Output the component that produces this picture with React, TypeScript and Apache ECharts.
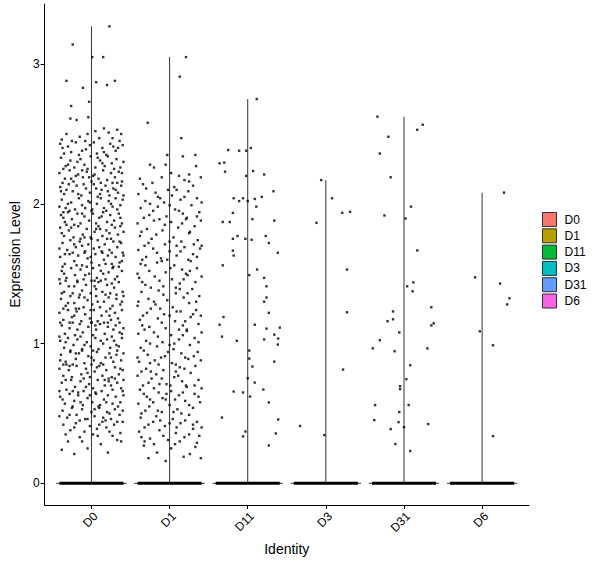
import { useEffect, useRef } from 'react';
import * as echarts from 'echarts';

// Seurat VlnPlot: expression per identity, violins collapsed at zero + jittered cells
const GROUPS = ['D0', 'D1', 'D11', 'D3', 'D31', 'D6'];
const FILLS = ['#F8766D', '#B79F00', '#00BA38', '#00BFC4', '#619CFF', '#F564E3'];
const Y_TICKS = [0, 1, 2, 3];

// [jitter offset, expression] for each non-zero cell
const d0Cells: [number, number][] = [
  [0.23, 3.27], [-0.24, 3.14], [0.01, 3.05], [0.15, 3.05], [-0.32, 2.88], [0.06, 2.87], [0.3, 2.88], [0.2, 2.85],
  [-0.11, 2.83], [-0.03, 2.73], [-0.26, 2.7], [-0.27, 2.61], [-0.19, 2.6], [-0.04, 2.62],
  [0.05, 2.52], [0.16, 2.54], [-0.32, 2.5], [0.38, 2.5], [-0.15, 2.48], [0.27, 2.47], [-0.38, 2.46], [0.1, 2.47],
  [-0.05, 2.5], [0.33, 2.53], [-0.25, 2.45], [0.22, 2.51],
  [-0.4, 2.43], [-0.3, 2.41], [-0.2, 2.44], [-0.12, 2.38], [-0.02, 2.42], [0.07, 2.36], [0.14, 2.4], [0.24, 2.43],
  [0.31, 2.38], [0.4, 2.42], [-0.35, 2.36], [-0.26, 2.37], [-0.08, 2.45], [0.03, 2.44], [0.19, 2.35], [0.36, 2.45],
  [-0.16, 2.35], [0.28, 2.41],
  [-0.39, 2.33], [-0.33, 2.27], [-0.27, 2.31], [-0.22, 2.26], [-0.14, 2.32], [-0.09, 2.28], [-0.01, 2.34], [0.05, 2.26],
  [0.11, 2.31], [0.17, 2.27], [0.21, 2.34], [0.26, 2.29], [0.32, 2.32], [0.37, 2.26], [0.41, 2.3], [-0.36, 2.25],
  [-0.18, 2.3], [0.08, 2.33], [0.29, 2.25], [-0.05, 2.25],
  [-0.41, 2.22], [-0.34, 2.18], [-0.28, 2.24], [-0.23, 2.16], [-0.17, 2.21], [-0.11, 2.19], [-0.06, 2.23], [0.0, 2.16],
  [0.04, 2.21], [0.09, 2.18], [0.15, 2.24], [0.2, 2.17], [0.25, 2.22], [0.3, 2.19], [0.35, 2.23], [0.39, 2.16],
  [-0.37, 2.15], [-0.2, 2.2], [0.12, 2.15], [0.33, 2.15], [-0.03, 2.19],
  [-0.4, 2.12], [-0.35, 2.07], [-0.29, 2.14], [-0.24, 2.09], [-0.19, 2.13], [-0.13, 2.06], [-0.07, 2.11], [-0.02, 2.08],
  [0.03, 2.14], [0.08, 2.05], [0.13, 2.1], [0.18, 2.13], [0.23, 2.06], [0.28, 2.11], [0.34, 2.08], [0.38, 2.13],
  [-0.32, 2.1], [-0.1, 2.14], [0.06, 2.11], [0.21, 2.09], [0.41, 2.06],
  [-0.38, 2.03], [-0.33, 1.97], [-0.26, 2.01], [-0.21, 1.96], [-0.16, 2.04], [-0.12, 1.99], [-0.04, 2.02], [0.01, 1.96],
  [0.07, 2.0], [0.12, 2.04], [0.16, 1.97], [0.22, 2.02], [0.27, 1.98], [0.31, 2.04], [0.37, 1.99], [0.4, 2.03],
  [-0.41, 1.98], [-0.28, 1.95], [-0.08, 1.97], [0.19, 1.95], [0.33, 1.96],
  [-0.39, 1.92], [-0.34, 1.87], [-0.3, 1.94], [-0.25, 1.89], [-0.18, 1.93], [-0.14, 1.86], [-0.09, 1.91], [-0.03, 1.88],
  [0.02, 1.93], [0.06, 1.86], [0.1, 1.9], [0.15, 1.94], [0.2, 1.87], [0.24, 1.92], [0.29, 1.88], [0.35, 1.93],
  [0.39, 1.86], [-0.22, 1.85], [0.0, 1.95], [0.26, 1.85], [-0.36, 1.9],
  [-0.4, 1.83], [-0.35, 1.77], [-0.29, 1.81], [-0.23, 1.76], [-0.17, 1.84], [-0.11, 1.78], [-0.06, 1.82], [-0.01, 1.76],
  [0.04, 1.8], [0.09, 1.84], [0.14, 1.77], [0.19, 1.81], [0.25, 1.75], [0.3, 1.83], [0.34, 1.78], [0.41, 1.8],
  [-0.32, 1.85], [-0.14, 1.75], [0.11, 1.82], [0.37, 1.84],
  [-0.37, 1.72], [-0.31, 1.67], [-0.27, 1.74], [-0.2, 1.69], [-0.15, 1.73], [-0.08, 1.66], [-0.04, 1.71], [0.03, 1.68],
  [0.08, 1.74], [0.13, 1.66], [0.17, 1.71], [0.23, 1.67], [0.28, 1.73], [0.33, 1.69], [0.38, 1.72], [-0.41, 1.68],
  [-0.24, 1.65], [0.0, 1.75], [0.2, 1.75], [0.4, 1.65], [-0.12, 1.7],
  [-0.4, 1.62], [-0.34, 1.57], [-0.28, 1.64], [-0.22, 1.59], [-0.17, 1.63], [-0.12, 1.56], [-0.05, 1.61], [0.0, 1.58],
  [0.05, 1.64], [0.1, 1.56], [0.16, 1.6], [0.21, 1.63], [0.26, 1.57], [0.31, 1.62], [0.36, 1.58], [0.41, 1.63],
  [-0.37, 1.55], [-0.09, 1.65], [0.14, 1.65], [0.28, 1.55],
  [-0.38, 1.52], [-0.32, 1.47], [-0.26, 1.54], [-0.21, 1.49], [-0.14, 1.53], [-0.1, 1.46], [-0.03, 1.5], [0.02, 1.54],
  [0.07, 1.47], [0.12, 1.52], [0.18, 1.46], [0.22, 1.51], [0.27, 1.54], [0.33, 1.48], [0.39, 1.52], [-0.41, 1.46],
  [-0.18, 1.45], [0.04, 1.45], [0.35, 1.55], [-0.06, 1.55],
  [-0.4, 1.43], [-0.35, 1.37], [-0.29, 1.41], [-0.24, 1.36], [-0.18, 1.44], [-0.12, 1.38], [-0.07, 1.42], [-0.01, 1.36],
  [0.04, 1.41], [0.09, 1.44], [0.14, 1.37], [0.2, 1.42], [0.24, 1.36], [0.29, 1.4], [0.35, 1.44], [0.4, 1.37],
  [-0.33, 1.45], [-0.15, 1.35], [0.12, 1.45], [0.32, 1.35], [0.0, 1.45],
  [-0.39, 1.32], [-0.33, 1.27], [-0.27, 1.34], [-0.22, 1.29], [-0.16, 1.33], [-0.1, 1.26], [-0.05, 1.31], [0.01, 1.28],
  [0.06, 1.34], [0.11, 1.26], [0.16, 1.3], [0.22, 1.33], [0.27, 1.27], [0.32, 1.32], [0.37, 1.28], [0.41, 1.34],
  [-0.36, 1.25], [-0.2, 1.25], [0.08, 1.3], [0.24, 1.25],
  [-0.41, 1.22], [-0.36, 1.17], [-0.3, 1.24], [-0.25, 1.19], [-0.19, 1.23], [-0.13, 1.16], [-0.08, 1.21], [-0.02, 1.18],
  [0.03, 1.24], [0.08, 1.16], [0.13, 1.2], [0.19, 1.23], [0.25, 1.17], [0.3, 1.22], [0.34, 1.18], [0.39, 1.24],
  [-0.28, 1.15], [0.0, 1.15], [0.21, 1.15], [-0.16, 1.25], [0.36, 1.15],
  [-0.38, 1.13], [-0.34, 1.07], [-0.28, 1.11], [-0.21, 1.06], [-0.15, 1.14], [-0.11, 1.08], [-0.04, 1.12], [0.02, 1.06],
  [0.06, 1.1], [0.11, 1.14], [0.17, 1.07], [0.21, 1.12], [0.26, 1.05], [0.31, 1.13], [0.36, 1.08], [0.41, 1.11],
  [-0.41, 1.05], [-0.24, 1.15], [0.0, 1.15], [0.16, 1.15],
  [-0.4, 1.02], [-0.35, 0.97], [-0.3, 1.04], [-0.23, 0.99], [-0.18, 1.03], [-0.12, 0.96], [-0.06, 1.01], [-0.01, 0.98],
  [0.05, 1.04], [0.09, 0.96], [0.15, 1.0], [0.2, 1.03], [0.24, 0.97], [0.29, 1.02], [0.35, 0.98], [0.39, 1.04],
  [-0.27, 0.95], [0.02, 0.95], [0.33, 0.95], [-0.14, 1.05],
  [-0.39, 0.92], [-0.33, 0.87], [-0.27, 0.94], [-0.2, 0.89], [-0.16, 0.93], [-0.09, 0.86], [-0.04, 0.91], [0.03, 0.88],
  [0.07, 0.94], [0.12, 0.86], [0.18, 0.9], [0.23, 0.93], [0.28, 0.87], [0.32, 0.92], [0.38, 0.88], [0.41, 0.93],
  [-0.36, 0.85], [-0.12, 0.95], [0.15, 0.85], [-0.24, 0.85],
  [-0.41, 0.82], [-0.36, 0.77], [-0.29, 0.81], [-0.25, 0.76], [-0.19, 0.84], [-0.13, 0.78], [-0.07, 0.82], [-0.02, 0.76],
  [0.04, 0.8], [0.1, 0.84], [0.14, 0.77], [0.19, 0.81], [0.26, 0.76], [0.3, 0.83], [0.35, 0.78], [0.4, 0.81],
  [-0.32, 0.85], [0.0, 0.85], [0.22, 0.75], [-0.1, 0.75],
  [-0.38, 0.72], [-0.32, 0.67], [-0.26, 0.74], [-0.21, 0.69], [-0.14, 0.73], [-0.1, 0.66], [-0.03, 0.71], [0.02, 0.68],
  [0.08, 0.74], [0.13, 0.66], [0.17, 0.7], [0.22, 0.73], [0.27, 0.67], [0.33, 0.72], [0.38, 0.68], [-0.41, 0.66],
  [-0.17, 0.65], [0.05, 0.65], [0.3, 0.75], [0.41, 0.74],
  [-0.4, 0.62], [-0.34, 0.57], [-0.28, 0.64], [-0.22, 0.59], [-0.17, 0.63], [-0.11, 0.56], [-0.05, 0.61], [0.01, 0.58],
  [0.06, 0.64], [0.11, 0.56], [0.16, 0.6], [0.21, 0.63], [0.27, 0.57], [0.31, 0.62], [0.37, 0.58], [0.41, 0.63],
  [-0.24, 0.55], [0.09, 0.55],
  [-0.37, 0.52], [-0.31, 0.47], [-0.25, 0.54], [-0.19, 0.49], [-0.12, 0.53], [-0.08, 0.46], [0.0, 0.51], [0.04, 0.48],
  [0.1, 0.54], [0.15, 0.47], [0.2, 0.51], [0.25, 0.46], [0.3, 0.53], [0.36, 0.49], [0.4, 0.52], [-0.41, 0.48],
  [-0.15, 0.45], [0.18, 0.45],
  [-0.36, 0.42], [-0.27, 0.38], [-0.2, 0.43], [-0.09, 0.37], [-0.02, 0.41], [0.07, 0.39], [0.14, 0.44], [0.23, 0.37],
  [0.29, 0.42], [0.37, 0.36], [-0.33, 0.35], [0.02, 0.35], [0.19, 0.4], [0.4, 0.44],
  [-0.3, 0.3], [-0.15, 0.33], [0.12, 0.28], [0.33, 0.31], [-0.05, 0.25], [0.21, 0.22], [-0.38, 0.24], [0.38, 0.3],
  [-0.22, 0.21], [0.08, 0.34],
  [-0.37, 2.4], [-0.07, 2.39], [0.16, 2.37], [0.34, 2.4], [-0.3, 2.28], [-0.12, 2.24], [0.14, 2.29], [0.39, 2.22],
  [-0.26, 2.18], [0.02, 2.2], [0.27, 2.15], [-0.39, 2.09], [-0.17, 2.07], [0.11, 2.07], [0.31, 2.1], [-0.3, 2.0],
  [-0.02, 2.01], [0.25, 2.0], [-0.36, 1.94], [-0.12, 1.93], [0.13, 1.91], [0.37, 1.9], [-0.26, 1.83], [0.06, 1.82],
  [0.23, 1.79], [-0.38, 1.79], [-0.09, 1.76], [0.36, 1.73], [-0.22, 1.71], [0.1, 1.69], [0.26, 1.65], [-0.34, 1.64],
  [-0.01, 1.62], [0.18, 1.57], [-0.19, 1.56], [0.39, 1.59], [-0.35, 1.5], [-0.08, 1.49], [0.15, 1.5], [0.3, 1.46],
  [-0.22, 1.41], [0.06, 1.39], [0.26, 1.43], [-0.38, 1.36], [-0.09, 1.33], [0.18, 1.35], [0.39, 1.3], [-0.3, 1.29],
  [-0.01, 1.24], [0.23, 1.2], [-0.22, 1.2], [-0.4, 1.15], [0.05, 1.13], [0.28, 1.1], [-0.18, 1.1], [0.39, 1.07],
  [-0.33, 1.01], [-0.09, 0.99], [0.12, 1.02], [0.32, 0.99], [-0.2, 0.93], [0.0, 0.9], [0.25, 0.9], [-0.4, 0.88],
  [-0.28, 0.84], [0.07, 0.83], [0.37, 0.82], [-0.05, 0.79], [0.17, 0.74], [-0.33, 0.74], [-0.07, 0.69], [0.25, 0.7],
  [0.4, 0.66], [-0.24, 0.66], [-0.02, 0.63], [0.19, 0.58], [-0.37, 0.6], [0.34, 0.55], [-0.14, 0.58], [0.04, 0.53],
  [-0.28, 0.49], [0.23, 0.5], [-0.05, 0.46], [0.33, 0.44], [-0.22, 0.4], [0.1, 0.42], [-0.12, 0.3], [0.27, 0.34],
];

const d1Cells: [number, number][] = [
  [0.21, 3.05], [0.13, 2.91], [-0.28, 2.58], [0.15, 2.47], [-0.03, 2.35], [0.17, 2.34], [0.33, 2.35], [-0.25, 2.28],
  [-0.2, 2.26], [-0.05, 2.28], [0.34, 2.27], [0.25, 2.21], [0.02, 2.22],
  [-0.38, 2.18], [-0.22, 2.15], [-0.1, 2.19], [0.06, 2.12], [0.19, 2.17], [0.3, 2.13], [0.4, 2.19], [-0.3, 2.11],
  [0.12, 2.2], [-0.02, 2.1],
  [-0.4, 2.07], [-0.31, 2.02], [-0.18, 2.08], [-0.07, 2.01], [0.03, 2.06], [0.14, 2.03], [0.24, 2.09], [0.35, 2.04],
  [-0.25, 2.0], [0.09, 2.1], [0.41, 2.01], [-0.12, 2.04],
  [-0.37, 1.97], [-0.26, 1.92], [-0.15, 1.98], [-0.04, 1.91], [0.07, 1.96], [0.17, 1.93], [0.28, 1.99], [0.38, 1.94],
  [-0.33, 1.9], [0.0, 1.99], [0.22, 1.9],
  [-0.41, 1.86], [-0.29, 1.82], [-0.2, 1.88], [-0.09, 1.81], [0.02, 1.87], [0.11, 1.83], [0.21, 1.89], [0.32, 1.84],
  [0.4, 1.88], [-0.36, 1.8], [-0.13, 1.89], [0.26, 1.8],
  [-0.38, 1.77], [-0.27, 1.72], [-0.17, 1.78], [-0.06, 1.71], [0.05, 1.76], [0.15, 1.73], [0.25, 1.79], [0.36, 1.74],
  [-0.32, 1.7], [0.09, 1.7], [0.41, 1.7],
  [-0.4, 1.67], [-0.3, 1.62], [-0.21, 1.68], [-0.11, 1.61], [0.0, 1.66], [0.09, 1.63], [0.19, 1.69], [0.3, 1.64],
  [0.39, 1.68], [-0.35, 1.6], [-0.03, 1.6], [0.24, 1.6],
  [-0.37, 1.57], [-0.26, 1.52], [-0.16, 1.58], [-0.05, 1.51], [0.06, 1.56], [0.16, 1.53], [0.27, 1.59], [0.35, 1.54],
  [-0.41, 1.5], [-0.1, 1.59], [0.21, 1.5],
  [-0.39, 1.47], [-0.31, 1.42], [-0.19, 1.48], [-0.08, 1.41], [0.03, 1.46], [0.13, 1.43], [0.23, 1.49], [0.33, 1.44],
  [0.41, 1.48], [-0.24, 1.4], [0.08, 1.4],
  [-0.36, 1.37], [-0.27, 1.32], [-0.14, 1.38], [-0.03, 1.31], [0.08, 1.36], [0.18, 1.33], [0.29, 1.39], [0.38, 1.34],
  [-0.4, 1.3], [-0.2, 1.3], [0.13, 1.39],
  [-0.41, 1.27], [-0.29, 1.22], [-0.18, 1.28], [-0.07, 1.21], [0.04, 1.26], [0.14, 1.23], [0.25, 1.29], [0.34, 1.24],
  [-0.34, 1.2], [0.0, 1.2], [0.4, 1.2], [-0.12, 1.25],
  [-0.38, 1.17], [-0.26, 1.12], [-0.15, 1.18], [-0.05, 1.11], [0.07, 1.16], [0.17, 1.13], [0.27, 1.19], [0.37, 1.14],
  [-0.32, 1.1], [0.12, 1.1], [0.22, 1.1],
  [-0.4, 1.07], [-0.3, 1.02], [-0.2, 1.08], [-0.09, 1.01], [0.02, 1.06], [0.12, 1.03], [0.22, 1.09], [0.32, 1.04],
  [0.41, 1.08], [-0.25, 1.0], [0.06, 1.0],
  [-0.37, 0.97], [-0.28, 0.92], [-0.16, 0.98], [-0.06, 0.91], [0.05, 0.96], [0.15, 0.93], [0.26, 0.99], [0.36, 0.94],
  [-0.41, 0.9], [-0.11, 0.9], [0.2, 0.9], [0.0, 0.99],
  [-0.39, 0.87], [-0.3, 0.82], [-0.19, 0.88], [-0.08, 0.81], [0.03, 0.86], [0.13, 0.83], [0.24, 0.89], [0.33, 0.84],
  [0.4, 0.88], [-0.24, 0.8], [0.08, 0.8], [-0.14, 0.85],
  [-0.41, 0.77], [-0.27, 0.72], [-0.17, 0.78], [-0.04, 0.71], [0.06, 0.76], [0.16, 0.73], [0.27, 0.79], [0.37, 0.74],
  [-0.34, 0.7], [0.01, 0.7], [0.21, 0.7], [-0.1, 0.75],
  [-0.38, 0.67], [-0.29, 0.62], [-0.2, 0.68], [-0.09, 0.61], [0.02, 0.66], [0.12, 0.63], [0.22, 0.69], [0.32, 0.64],
  [0.41, 0.68], [-0.25, 0.6], [0.07, 0.6], [-0.14, 0.65],
  [-0.4, 0.57], [-0.31, 0.52], [-0.21, 0.58], [-0.1, 0.51], [0.0, 0.56], [0.1, 0.53], [0.2, 0.59], [0.3, 0.54],
  [0.39, 0.58], [-0.36, 0.5], [0.15, 0.5], [-0.05, 0.6],
  [-0.37, 0.47], [-0.27, 0.42], [-0.17, 0.48], [-0.06, 0.41], [0.04, 0.46], [0.14, 0.43], [0.25, 0.49], [0.35, 0.44],
  [-0.32, 0.4], [0.09, 0.4], [0.41, 0.4], [-0.12, 0.45],
  [-0.39, 0.37], [-0.25, 0.32], [-0.13, 0.38], [-0.02, 0.31], [0.08, 0.36], [0.19, 0.33], [0.3, 0.39], [0.38, 0.34],
  [-0.32, 0.3], [0.13, 0.3],
  [-0.33, 0.27], [-0.16, 0.22], [0.02, 0.25], [0.18, 0.19], [0.33, 0.26], [-0.05, 0.16], [0.26, 0.21], [-0.27, 0.18],
  [0.4, 0.18],
  [-0.34, 2.14], [0.25, 2.16], [-0.15, 2.05], [0.19, 2.05], [-0.21, 1.95], [0.12, 1.95], [0.35, 1.91], [-0.06, 1.85],
  [0.16, 1.86], [-0.23, 1.75], [0.0, 1.73], [0.31, 1.71], [-0.16, 1.65], [0.14, 1.66], [0.35, 1.62], [-0.31, 1.56],
  [0.01, 1.54], [0.26, 1.52], [-0.13, 1.45], [0.18, 1.46], [-0.35, 1.44], [-0.08, 1.35], [0.23, 1.36], [0.34, 1.3],
  [-0.24, 1.25], [0.09, 1.23], [0.3, 1.21], [-0.1, 1.15], [0.2, 1.16], [-0.35, 1.13], [-0.15, 1.05], [0.17, 1.06],
  [0.37, 1.01], [-0.33, 0.95], [-0.02, 0.94], [0.31, 0.91], [-0.25, 0.86], [0.08, 0.85], [0.19, 0.82], [-0.36, 0.8],
  [-0.13, 0.71], [0.11, 0.77], [0.32, 0.7], [-0.23, 0.75], [-0.33, 0.64], [0.17, 0.65], [-0.04, 0.64], [0.37, 0.62],
  [-0.26, 0.55], [0.05, 0.51], [0.25, 0.56], [-0.15, 0.52], [-0.21, 0.44], [0.2, 0.45], [0.0, 0.43], [0.3, 0.42],
  [-0.08, 0.34], [0.25, 0.35], [-0.36, 0.33], [0.07, 0.28], [-0.2, 0.28], [0.35, 0.29],
];

const d11Cells: [number, number][] = [
  [0.115, 2.75], [-0.25, 2.385], [-0.11, 2.38], [-0.02, 2.38], [0.04, 2.4], [-0.36, 2.29], [-0.3, 2.295], [-0.29, 2.23],
  [0.07, 2.235], [-0.02, 2.2], [0.21, 2.21], [0.33, 2.09], [-0.18, 2.04], [-0.06, 2.04], [0.09, 2.035], [0.18, 2.05],
  [-0.11, 2.02], [0.0, 2.02], [0.11, 1.98], [-0.19, 1.935], [-0.32, 1.87], [-0.23, 1.87], [0.06, 1.89], [0.34, 1.88],
  [-0.13, 1.77], [-0.19, 1.75], [-0.03, 1.75], [0.05, 1.743], [0.23, 1.77], [0.27, 1.72], [-0.19, 1.665], [-0.18, 1.63],
  [0.385, 1.65], [-0.32, 1.56], [0.12, 1.53], [0.02, 1.49], [0.21, 1.47], [0.24, 1.41], [0.24, 1.33], [0.21, 1.3],
  [0.27, 1.22], [-0.31, 1.19], [-0.36, 1.135], [0.09, 1.135], [0.24, 1.107], [0.41, 1.114], [-0.33, 1.05], [-0.14, 1.02],
  [0.34, 1.064], [0.21, 1.03], [0.39, 1.036], [0.385, 0.993], [0.02, 0.95], [0.02, 0.893], [0.34, 0.871], [0.06, 0.836],
  [0.0, 0.752], [0.09, 0.721], [0.2, 0.671], [-0.18, 0.657], [-0.06, 0.65], [0.03, 0.621], [0.27, 0.579], [-0.33, 0.471],
  [0.39, 0.457], [-0.03, 0.371], [-0.06, 0.336], [0.36, 0.357], [0.27, 0.271],
];

const d3Cells: [number, number][] = [
  [-0.06, 2.17], [0.08, 2.04], [-0.12, 1.864], [0.21, 1.936], [0.31, 1.943], [0.27, 1.53], [0.27, 1.224], [0.22, 0.814],
  [-0.33, 0.41], [-0.02, 0.345],
];

const d31Cells: [number, number][] = [
  [-0.34, 2.624], [0.24, 2.566], [0.17, 2.53], [-0.2, 2.48], [-0.31, 2.36], [-0.17, 2.19], [0.09, 1.98], [-0.25, 1.917],
  [0.02, 1.895], [0.17, 1.667], [0.12, 1.438], [0.04, 1.41], [0.11, 1.374], [0.35, 1.26], [-0.14, 1.23], [-0.21, 1.16],
  [-0.14, 1.174], [0.38, 1.145], [0.35, 1.13], [-0.06, 1.08], [-0.31, 1.024], [-0.4, 0.966], [-0.12, 0.945], [0.3, 0.966],
  [0.08, 0.845], [0.03, 0.745], [-0.05, 0.695], [-0.05, 0.674], [-0.37, 0.56], [0.06, 0.56], [-0.06, 0.51], [-0.38, 0.452],
  [-0.07, 0.438], [0.31, 0.424], [0.0, 0.402], [-0.17, 0.388], [-0.11, 0.281], [0.08, 0.231],
];

const d6Cells: [number, number][] = [
  [0.28, 2.08], [-0.09, 1.474], [0.23, 1.43], [0.35, 1.324], [0.32, 1.28], [-0.03, 1.088], [0.14, 0.988], [0.14, 0.338],
];

const CELLS = [d0Cells, d1Cells, d11Cells, d3Cells, d31Cells, d6Cells];

const VIOLIN_HALF = 0.45;
const JITTER_HALF = 0.41;
const FONT = '"Liberation Sans", Arial, sans-serif';

export default function App() {
  const chartRef = useRef<HTMLDivElement>(null);

  useEffect(() => {
    if (!chartRef.current) return;
    const chart = echarts.init(chartRef.current, undefined, { renderer: 'svg' });
    const positions = GROUPS.map((_, i) => i + 1);

    // violin outline: wide at zero, a hairline up to the group max
    const violinSeries = GROUPS.map((name, i) => ({
      name,
      type: 'custom',
      itemStyle: { color: FILLS[i] },
      data: [[i + 1, Math.max(...CELLS[i].map((c) => c[1]))]],
      renderItem: (_params: any, api: any) => {
        const x = api.value(0);
        const top = api.value(1);
        const base = api.coord([x, 0]);
        const peak = api.coord([x, top]);
        const vl = api.coord([x - VIOLIN_HALF, 0]);
        const vr = api.coord([x + VIOLIN_HALF, 0]);
        const jl = api.coord([x - JITTER_HALF, 0]);
        const jr = api.coord([x + JITTER_HALF, 0]);
        return {
          type: 'group',
          children: [
            { type: 'line', shape: { x1: vl[0], y1: base[1], x2: vr[0], y2: base[1] }, style: { stroke: '#333', lineWidth: 1 } },
            { type: 'rect', shape: { x: jl[0], y: base[1] - 1.5, width: jr[0] - jl[0], height: 3 }, style: { fill: '#000' } },
            { type: 'line', shape: { x1: base[0], y1: base[1], x2: peak[0], y2: peak[1] }, style: { stroke: '#333', lineWidth: 1 } },
          ],
        };
      },
    }));

    const points: number[][] = [];
    CELLS.forEach((cells, i) => cells.forEach(([dx, y]) => points.push([i + 1 + dx, y])));

    chart.setOption({
      animation: false,
      backgroundColor: '#fff',
      textStyle: { fontFamily: FONT },
      grid: { left: 43, right: 71, top: 4, bottom: 63 },
      legend: {
        data: GROUPS,
        orient: 'vertical',
        left: 542,
        top: 212,
        padding: 0,
        icon: 'rect',
        itemWidth: 14,
        itemHeight: 14,
        itemGap: 1.3,
        itemStyle: { borderColor: '#333', borderWidth: 1 },
        textStyle: { fontSize: 12, color: '#000', fontFamily: FONT, padding: [0, 0, 0, 3] },
        selectedMode: false,
      },
      xAxis: {
        type: 'value',
        min: 0.4,
        max: 6.6,
        name: 'Identity',
        nameLocation: 'middle',
        nameGap: 37,
        nameTextStyle: { fontSize: 14, color: '#000', fontFamily: FONT },
        splitLine: { show: false },
        axisLine: { onZero: false, lineStyle: { color: '#000', width: 1 } },
        axisTick: { customValues: positions, length: 4, lineStyle: { color: '#000' } },
        axisLabel: {
          customValues: positions,
          formatter: (v: number) => GROUPS[Math.round(v) - 1] ?? '',
          rotate: 45,
          margin: 5,
          verticalAlign: 'top',
          fontSize: 12,
          color: '#000',
        },
      },
      yAxis: {
        type: 'value',
        min: -0.155,
        max: 3.43,
        name: 'Expression Level',
        nameLocation: 'middle',
        nameGap: 17,
        nameTextStyle: { fontSize: 14, color: '#000', fontFamily: FONT },
        splitLine: { show: false },
        axisLine: { show: true, onZero: false, lineStyle: { color: '#000', width: 1 } },
        axisTick: { show: true, customValues: Y_TICKS, length: 4, lineStyle: { color: '#000' } },
        axisLabel: { customValues: Y_TICKS, margin: 5, fontSize: 12, color: '#000' },
      },
      series: [
        ...violinSeries,
        {
          name: 'cells',
          type: 'scatter',
          symbol: 'rect',
          symbolSize: 2.4,
          itemStyle: { color: '#000' },
          data: points,
          silent: true,
        },
      ],
    });

    return () => chart.dispose();
  }, []);

  return <div ref={chartRef} style={{ position: 'absolute', left: 0, top: 0, width: 600, height: 568 }} />;
}
